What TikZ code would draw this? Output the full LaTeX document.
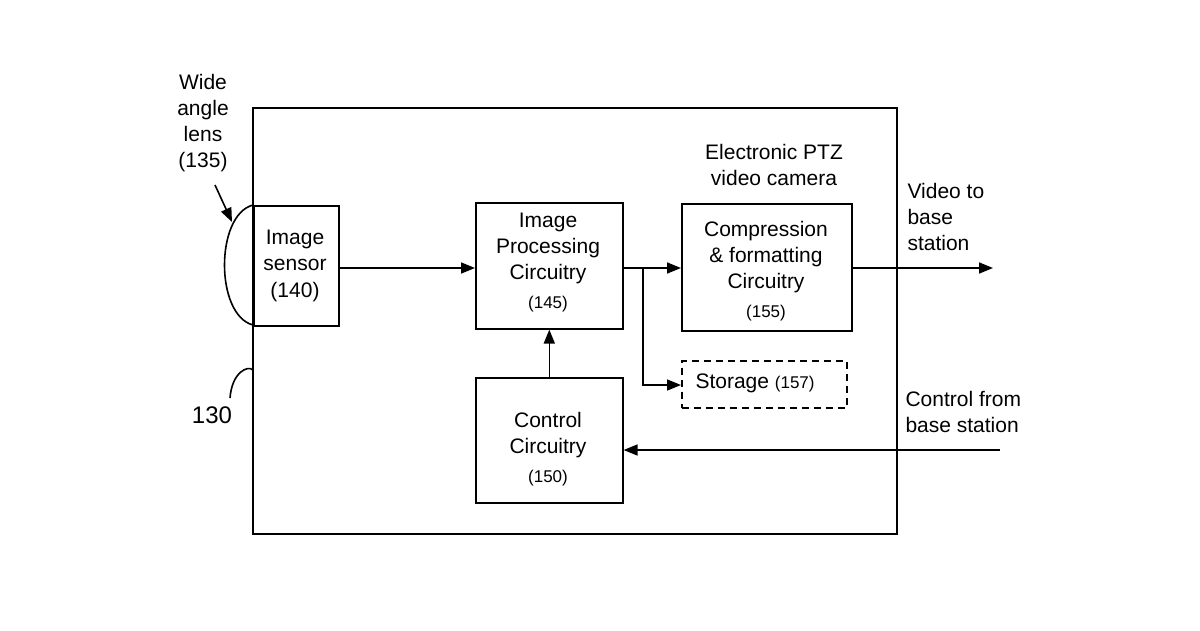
\documentclass[tikz,border=0pt]{standalone}
\usepackage{fontspec}
\setmainfont{Liberation Sans}
\usetikzlibrary{arrows.meta}
\begin{document}
\begin{tikzpicture}[x=1pt,y=-1pt,
  box/.style={draw,line width=1.6pt},
  lbl/.style={align=center,font=\fontsize{21}{26}\selectfont},
  sm/.style={font=\fontsize{17}{20}\selectfont},
  arr/.style={line width=1.6pt,-{Triangle[length=14pt,width=11pt]}},
  ln/.style={line width=1.6pt}]
\useasboundingbox (0,0) rectangle (1200,630);
\draw[box] (253,108) rectangle (897,534);
\node[box,minimum width=85pt,minimum height=120pt,anchor=north west] (sens) at (253,205) {};
\node[lbl] at (295,250) {Image\\sensor};
\node[lbl] at (295,292) {(140)};
\draw[ln] (253,205) .. controls (215,215) and (215,315) .. (253,325);
\node[lbl] (lens) at (203,123) {Wide\\angle\\lens\\(135)};
\coordinate (lt) at (232,222);
\draw[arr] (215,185) -- (lt);
\node[font=\fontsize{24}{28}\selectfont] (n130) at (212,415) {130};
\draw[ln] (230,398) .. controls (232,372) and (248,365) .. (253,370);
\node[box,minimum width=147pt,minimum height=126pt,anchor=north west] (ipc) at (475,202) {};
\node[lbl] at (548,248) {Image\\Processing\\Circuitry};
\node[sm] at (548,304) {(145)};
\node[box,minimum width=170pt,minimum height=127pt,anchor=north west] (cmp) at (681,203) {};
\node[lbl] at (766,257) {Compression\\\& formatting\\Circuitry};
\node[sm] at (766,313) {(155)};
\node[draw,line width=1.6pt,dash pattern=on 7pt off 5pt,minimum width=165pt,minimum height=47pt,anchor=north west] (sto) at (681,360) {};
\node[lbl,anchor=west] at (692,383) {Storage \fontsize{17}{20}\selectfont(157)};
\node[box,minimum width=147pt,minimum height=125pt,anchor=north west] (ctl) at (475,377) {};
\node[lbl] at (548,435) {Control\\Circuitry};
\node[sm] at (548,478) {(150)};
\node[lbl] at (774,165) {Electronic PTZ\\video camera};
\node[lbl,align=left,anchor=north west] at (904,180) {Video to\\base\\station};
\node[lbl,align=left,anchor=north west] at (902,388) {Control from\\base station};
\coordinate (vo) at (993,268);
\coordinate (ci) at (1000,450);
\coordinate (j) at (643,268);
\draw[arr] (sens.east |- 0,268) -- (ipc.west |- 0,268);
\draw[arr] (ipc.east |- 0,268) -- (cmp.west |- 0,268);
\draw[arr] (j) |- (sto.west |- 0,385);
\draw[arr] (ctl.north) -- (ipc.south);
\draw[arr] (ci) -- (ctl.east |- 0,450);
\draw[arr] (cmp.east |- 0,268) -- (vo);
\end{tikzpicture}
\end{document}
